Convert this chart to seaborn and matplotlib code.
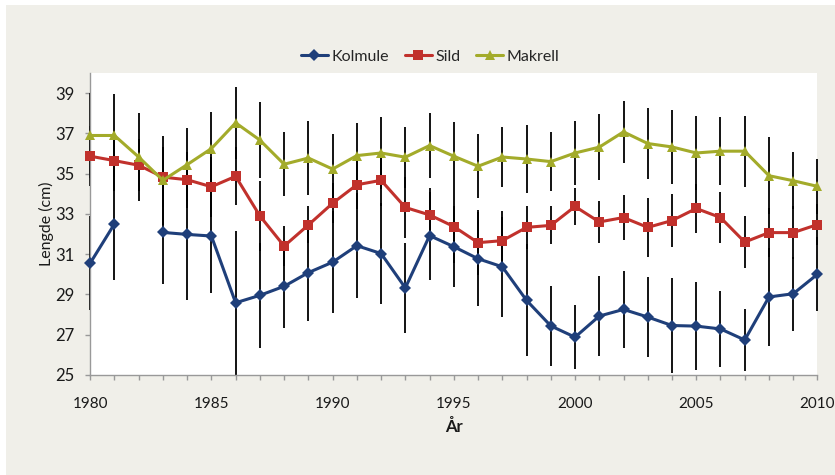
import numpy as np
import pandas as pd
import matplotlib
matplotlib.use('Agg')
import matplotlib.pyplot as plt
from matplotlib.patches import Rectangle
import seaborn as sns

# mean length (cm) per year
years = list(range(1980, 2011))
kolmule = [30.55, 32.5, np.nan, 32.08, 31.98, 31.9, 28.58, 28.95, 29.4, 30.08,
           30.6, 31.42, 31.03, 29.32, 31.92, 31.37, 30.77, 30.37, 28.7, 27.43,
           26.87, 27.92, 28.25, 27.87, 27.45, 27.42, 27.28, 26.73, 28.87, 29.03, 30.0]
sild = [35.87, 35.65, 35.42, 34.83, 34.7, 34.35, 34.87, 32.9, 31.4, 32.45,
        33.53, 34.45, 34.67, 33.32, 32.95, 32.37, 31.57, 31.67, 32.33, 32.43,
        33.37, 32.6, 32.82, 32.33, 32.67, 33.27, 32.82, 31.6, 32.07, 32.07, 32.47]
makrell = [36.9, 36.9, 35.83, 34.67, 35.45, 36.25, 37.53, 36.67, 35.47, 35.78,
           35.23, 35.9, 36.03, 35.82, 36.4, 35.87, 35.37, 35.83, 35.73, 35.6,
           36.03, 36.32, 37.08, 36.5, 36.33, 36.03, 36.12, 36.12, 34.9, 34.65, 34.37]

# standard deviations (error bars)
kolmule_sd = [2.35, 2.8, np.nan, 2.55, 3.25, 2.83, 3.58, 2.62, 2.07, 2.41,
              2.53, 2.6, 2.5, 2.25, 2.19, 2.0, 2.34, 2.5, 2.78, 2.0,
              1.6, 2.0, 1.9, 1.98, 2.35, 2.17, 1.9, 1.52, 2.42, 1.83, 1.83]
sild_sd = [1.5, 1.5, 1.3, 1.5, 1.4, 1.5, 1.45, 1.72, 1.0, 0.92,
           1.0, 1.2, 1.3, 1.54, 1.33, 1.8, 1.63, 1.45, 1.07, 0.95,
           0.93, 1.03, 1.1, 1.45, 1.3, 1.24, 1.25, 1.3, 1.2, 1.3, 1.0]
makrell_sd = [2.1, 2.05, 2.2, 2.2, 1.8, 1.82, 1.78, 1.9, 1.6, 1.83,
              1.72, 1.6, 1.8, 1.51, 1.63, 1.7, 1.58, 1.47, 1.67, 1.45,
              1.6, 1.63, 1.55, 1.77, 1.83, 1.85, 1.68, 1.77, 1.92, 1.42, 1.38]

series = {
    'Kolmule': (kolmule, kolmule_sd, '#1f3f7a', 'D', 6.0),
    'Sild': (sild, sild_sd, '#c1312c', 's', 7.0),
    'Makrell': (makrell, makrell_sd, '#a3ab2a', '^', 7.5),
}

bg = '#f0efe9'
txt = '#1a1a1a'
sns.set_theme(style='white')
plt.rcParams['font.family'] = ['Lato', 'DejaVu Sans']

fig = plt.figure(figsize=(8.35, 4.75), dpi=100, facecolor='white')
# beige chart panel, with a thin white margin at left and top
fig.add_artist(Rectangle((6 / 835, 0), 1, 1 - 5 / 475, transform=fig.transFigure,
                         facecolor=bg, edgecolor='none', zorder=-10))
ax = fig.add_axes([0.108, 0.211, 0.871, 0.635])
ax.set_facecolor('white')

for name, (vals, sd, col, mk, ms) in series.items():
    df = pd.DataFrame({'year': years, 'value': vals, 'sd': sd})
    # segment id so missing years break the line
    df['seg'] = df['value'].isna().cumsum()
    df = df.dropna()
    ax.errorbar(df['year'], df['value'], yerr=df['sd'], fmt='none',
                ecolor='black', elinewidth=1.3, capsize=0, zorder=1, clip_on=False)
    sns.lineplot(data=df, x='year', y='value', units='seg', estimator=None,
                 color=col, marker=mk, markersize=ms, markeredgewidth=0,
                 linewidth=2.2, label=name, legend=False, ax=ax,
                 zorder=3, clip_on=False)

ax.set_xlim(1980, 2010)
ax.set_ylim(25, 40)
ax.set_xticks(years)
ax.set_xticklabels([str(y) if y % 5 == 0 else '' for y in years])
ax.set_yticks(range(25, 40, 2))
ax.tick_params(axis='both', direction='out', length=3.6, width=1, color='#999999',
               labelcolor=txt)
ax.tick_params(axis='x', pad=12.5, labelsize=11)
ax.tick_params(axis='y', pad=7.5, labelsize=12)
ax.tick_params(left=True, bottom=True)
for s in ['top', 'right']:
    ax.spines[s].set_visible(False)
for s in ['left', 'bottom']:
    ax.spines[s].set_color('#999999')
    ax.spines[s].set_linewidth(1)

ax.set_xlabel('År', fontsize=12, fontweight='bold', labelpad=6, color=txt)
ax.set_ylabel('Lengde (cm)', fontsize=11.5, labelpad=1, color=txt)

handles, labels = ax.get_legend_handles_labels()
uniq = dict(zip(labels, handles))
fig.legend(list(uniq.values()), list(uniq.keys()), loc='center',
           bbox_to_anchor=(0.515, 0.88), ncol=3, frameon=False,
           fontsize=11.5, handlelength=1.7, handletextpad=0.2, columnspacing=1.0)

fig.savefig('out.png', dpi=100, facecolor='white')
